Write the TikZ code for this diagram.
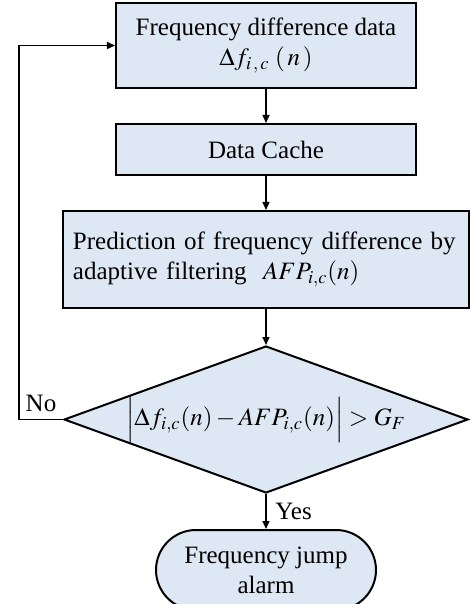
\documentclass[tikz,border=0pt]{standalone}
\usepackage{mathptmx}
\usepackage{fontspec}
\setmainfont{Liberation Serif}
\usetikzlibrary{arrows.meta,positioning,shapes.geometric}
\definecolor{bfill}{HTML}{DEE8F4}
\tikzset{
  box/.style={draw,line width=1pt,fill=bfill,align=center,minimum width=150pt,inner sep=3pt},
  dbox/.style={diamond,aspect=2.75,draw,line width=1pt,fill=bfill,inner sep=0pt,minimum width=202pt,minimum height=73.5pt},
  tbox/.style={box,rounded corners=20pt,minimum width=110pt,minimum height=40pt},
  ar/.style={-{Triangle[length=4pt,width=3.5pt]},line width=0.75pt},
}

\begin{document}
\begin{tikzpicture}[font=\fontsize{12.5}{15}\selectfont]
  \useasboundingbox (-133pt,22.75pt) rectangle (102pt,-279.25pt);
  \node[box,minimum height=42.5pt] (data) at (0,0)
       {Frequency difference data\\$\Delta f_{i\,,\,c}\;(\,n\,)$};
  \node[box,below=17pt of data,minimum height=25.5pt] (cache) {Data Cache};
  \node[box,below=17pt of cache,align=left,text width=193pt,inner xsep=5pt,minimum height=48.5pt] (pred)
       {Prediction of frequency difference by\\adaptive filtering \ $AFP_{i,c}(n)$};
  \node[dbox,below=18pt of pred] (cmp) {$\Bigl|\Delta f_{i,c}(n)-AFP_{i,c}(n)\Bigr|>G_F$};
  \node[tbox,below=17.5pt of cmp] (alarm) {Frequency jump\\alarm};
  \draw[ar] (data) -- (cache);
  \draw[ar] (cache) -- (pred);
  \draw[ar] (pred) -- (cmp);
  \draw[ar] (cmp) -- node[right,xshift=1pt]{Yes} (alarm);
  \draw[ar] (cmp.west) -- node[above]{No} ++(-22pt,0) |- (data.west);
\end{tikzpicture}
\end{document}
